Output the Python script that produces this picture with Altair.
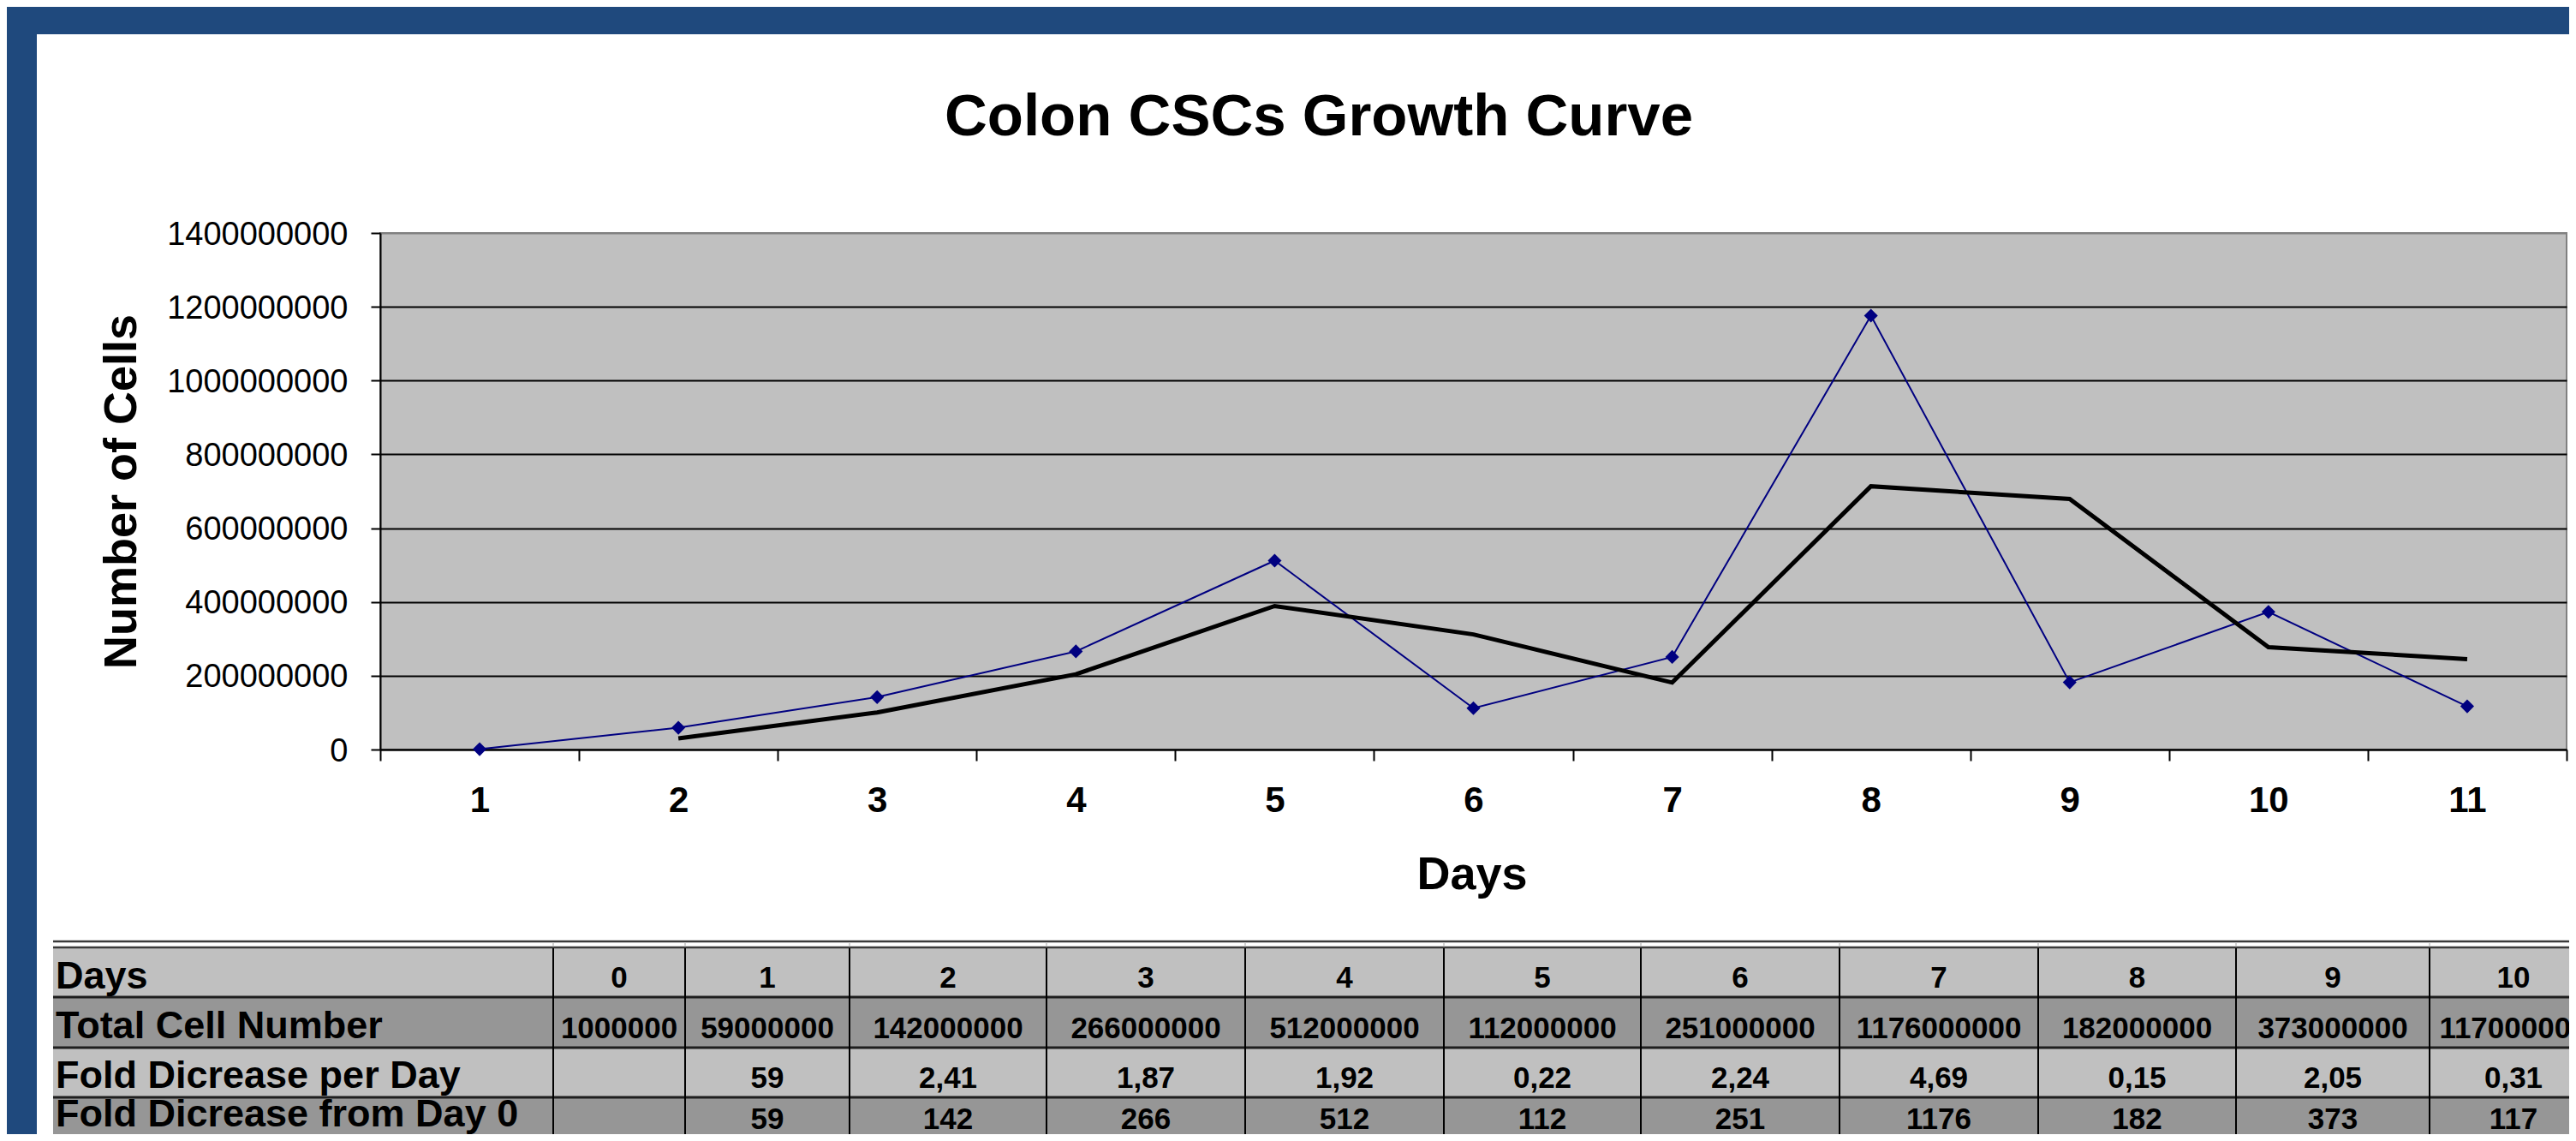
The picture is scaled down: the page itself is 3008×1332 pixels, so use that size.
import altair as alt
import pandas as pd

# ---------------- data ----------------
title_text = "Colon CSCs Growth Curve"
x_title = "Days"
y_title = "Number of Cells"

chart_days = list(range(1, 12))
total_cells = [1000000, 59000000, 142000000, 266000000, 512000000, 112000000,
               251000000, 1176000000, 182000000, 373000000, 117000000]
trend_days = list(range(2, 12))
trend_cells = [30000000, 100500000, 204000000, 389000000, 312000000, 181500000,
               713500000, 679000000, 277500000, 245000000]
y_ticks = [0, 200000000, 400000000, 600000000, 800000000, 1000000000,
           1200000000, 1400000000]

table_days = list(range(0, 11))
fold_per_day = [None, 59, 2.41, 1.87, 1.92, 0.22, 2.24, 4.69, 0.15, 2.05, 0.31]
fold_from_day0 = [None, 59, 142, 266, 512, 112, 251, 1176, 182, 373, 117]
row_labels = ["Days", "Total Cell Number", "Fold Dicrease per Day",
              "Fold Dicrease from Day 0"]

# ---------------- layout (page pixels) ----------------
PAGE_W, PAGE_H = 3008, 1332
PLOT_L, PLOT_T, PLOT_R, PLOT_B = 444, 272, 2997, 875
W = PLOT_R - PLOT_L
H = PLOT_B - PLOT_T
col_edges = [62, 646, 800, 992, 1222, 1454, 1686, 1916, 2148, 2380, 2611, 2837, 3033]
row_edges = [1107, 1164, 1223, 1281, 1340]
label_baselines = [1154, 1212, 1270, 1315]
value_baselines = [1153, 1212, 1270, 1318]
row_fills = ["#C0C0C0", "#969696", "#C0C0C0", "#969696"]
FONT = "Liberation Sans"
BLUE_FRAME = "#1F497D"
SERIES_BLUE = "#000080"

page_x = alt.Scale(domain=[0, PAGE_W], range=[-PLOT_L, PAGE_W - PLOT_L], nice=False, zero=False)
page_y = alt.Scale(domain=[0, PAGE_H], range=[-PLOT_T, PAGE_H - PLOT_T], nice=False, zero=False)


def fmt(v):
    if v is None:
        return ""
    return str(v).replace(".", ",")


# ---------------- main line chart ----------------
x_axis = alt.Axis(
    title=x_title, tickBand="extent", labelAngle=0, grid=False,
    domainColor="black", domainWidth=2, tickColor="black", tickWidth=2, tickSize=13,
    labelFont=FONT, labelFontSize=42, labelFontWeight="bold", labelColor="black",
    labelPadding=26, labelBaseline="top", labelLimit=0,
    titleFont=FONT, titleFontSize=54, titleFontWeight="bold", titleColor="black",
    titleX=W / 2 - 2, titleY=1037 - PLOT_B, titleBaseline="alphabetic",
    titleAlign="center", titleAnchor="middle",
)
y_axis = alt.Axis(
    title=y_title, values=y_ticks, format="d",
    grid=True, gridWidth=2,
    gridColor={"condition": {"test": "datum.value >= 1400000000", "value": "#808080"},
               "value": "black"},
    domainColor="black", domainWidth=2, tickColor="black", tickWidth=2, tickSize=11,
    labelFont=FONT, labelFontSize=38, labelColor="black", labelPadding=27,
    labelBaseline="middle", labelOffset=2, labelLimit=0,
    titleFont=FONT, titleFontSize=54, titleFontWeight="bold", titleColor="black",
    titleAngle=270, titleX=158 - PLOT_L, titleY=H / 2, titleBaseline="alphabetic",
    titleAlign="center", titleAnchor="middle", titleLimit=0,
)

x_enc = alt.X("day:O", sort=chart_days,
              scale=alt.Scale(type="band", domain=chart_days, paddingInner=0, paddingOuter=0),
              bandPosition=0.5, axis=x_axis)
y_enc = alt.Y("cells:Q", scale=alt.Scale(domain=[0, 1400000000], nice=False, zero=True),
              axis=y_axis)

series_df = pd.DataFrame({"day": chart_days, "cells": total_cells})
trend_df = pd.DataFrame({"day": trend_days, "cells": trend_cells})

blue_line = alt.Chart(series_df).mark_line(color=SERIES_BLUE, strokeWidth=2).encode(x=x_enc, y=y_enc)
blue_pts = alt.Chart(series_df).mark_point(shape="diamond", filled=True, size=260,
                                           color=SERIES_BLUE, opacity=1).encode(x=x_enc, y=y_enc)
black_line = alt.Chart(trend_df).mark_line(color="black", strokeWidth=5).encode(x=x_enc, y=y_enc)

main = alt.layer(blue_line, blue_pts, black_line)

# ---------------- frame, title, table ----------------
frame_df = pd.DataFrame([
    {"x0": 0, "x1": PAGE_W, "y0": 0, "y1": 40},
    {"x0": 0, "x1": 43, "y0": 0, "y1": PAGE_H},
])
frame = alt.Chart(frame_df).mark_rect(color=BLUE_FRAME).encode(
    x=alt.X("x0:Q", scale=page_x, axis=None), x2="x1:Q",
    y=alt.Y("y0:Q", scale=page_y, axis=None), y2="y1:Q")

title_df = pd.DataFrame([{"tx": 1540, "ty": 158, "t": title_text}])
title = alt.Chart(title_df).mark_text(font=FONT, fontSize=69, fontWeight="bold", color="black",
                                      align="center", baseline="alphabetic").encode(
    x=alt.X("tx:Q", scale=page_x, axis=None), y=alt.Y("ty:Q", scale=page_y, axis=None), text="t:N")

rows_df = pd.DataFrame([
    {"x0": col_edges[0], "x1": col_edges[-1], "y0": row_edges[r], "y1": row_edges[r + 1],
     "fill": row_fills[r]} for r in range(4)
])
row_rects = alt.Chart(rows_df).mark_rect().encode(
    x=alt.X("x0:Q", scale=page_x, axis=None), x2="x1:Q",
    y=alt.Y("y0:Q", scale=page_y, axis=None), y2="y1:Q",
    color=alt.Color("fill:N", scale=None))

rules = []
for yy in row_edges[1:4]:
    rules.append({"x0": col_edges[0], "x1": col_edges[-1], "y0": yy, "y1": yy, "w": 3, "c": "#1e1e1e"})
for yy in [1099, 1106]:
    rules.append({"x0": col_edges[0], "x1": col_edges[-1], "y0": yy, "y1": yy, "w": 2.5, "c": "#3a3a3a"})
for xx in col_edges[1:-1]:
    rules.append({"x0": xx, "x1": xx, "y0": row_edges[0], "y1": row_edges[-1], "w": 2, "c": "#000000"})
    rules.append({"x0": xx, "x1": xx, "y0": 1100, "y1": 1105, "w": 2, "c": "#d0d0d0"})
rules_df = pd.DataFrame(rules)
rule_layer = alt.Chart(rules_df).mark_rule().encode(
    x=alt.X("x0:Q", scale=page_x, axis=None), x2="x1:Q",
    y=alt.Y("y0:Q", scale=page_y, axis=None), y2="y1:Q",
    color=alt.Color("c:N", scale=None), strokeWidth=alt.StrokeWidth("w:Q", scale=None))

label_df = pd.DataFrame([
    {"tx": col_edges[0] + 3, "ty": label_baselines[r], "t": row_labels[r]} for r in range(4)
])
labels = alt.Chart(label_df).mark_text(font=FONT, fontSize=45, fontWeight="bold", color="black",
                                       align="left", baseline="alphabetic").encode(
    x=alt.X("tx:Q", scale=page_x, axis=None), y=alt.Y("ty:Q", scale=page_y, axis=None), text="t:N")

rows_text = [
    [str(d) for d in table_days],
    [str(v) for v in total_cells],
    [fmt(v) for v in fold_per_day],
    [fmt(v) for v in fold_from_day0],
]
cells = []
for r in range(4):
    for c in range(11):
        cells.append({"tx": (col_edges[c + 1] + col_edges[c + 2]) / 2,
                      "ty": value_baselines[r], "t": rows_text[r][c]})
cells_df = pd.DataFrame(cells)
cell_text = alt.Chart(cells_df).mark_text(font=FONT, fontSize=35, fontWeight="bold", color="black",
                                          align="center", baseline="alphabetic").encode(
    x=alt.X("tx:Q", scale=page_x, axis=None), y=alt.Y("ty:Q", scale=page_y, axis=None), text="t:N")

overlay = alt.layer(frame, title, row_rects, rule_layer, labels, cell_text)

chart = alt.layer(main, overlay).resolve_scale(x="independent", y="independent").properties(
    width=W, height=H,
    autosize=alt.AutoSizeParams(type="none"),
    padding={"left": PLOT_L - 8, "top": PLOT_T - 8, "right": 3, "bottom": PAGE_H - 8 - PLOT_B},
    background="white",
).configure_view(fill="#C0C0C0", stroke="#808080", strokeWidth=2)

chart.save("out.html", embed_options={"renderer": "svg", "actions": False})
